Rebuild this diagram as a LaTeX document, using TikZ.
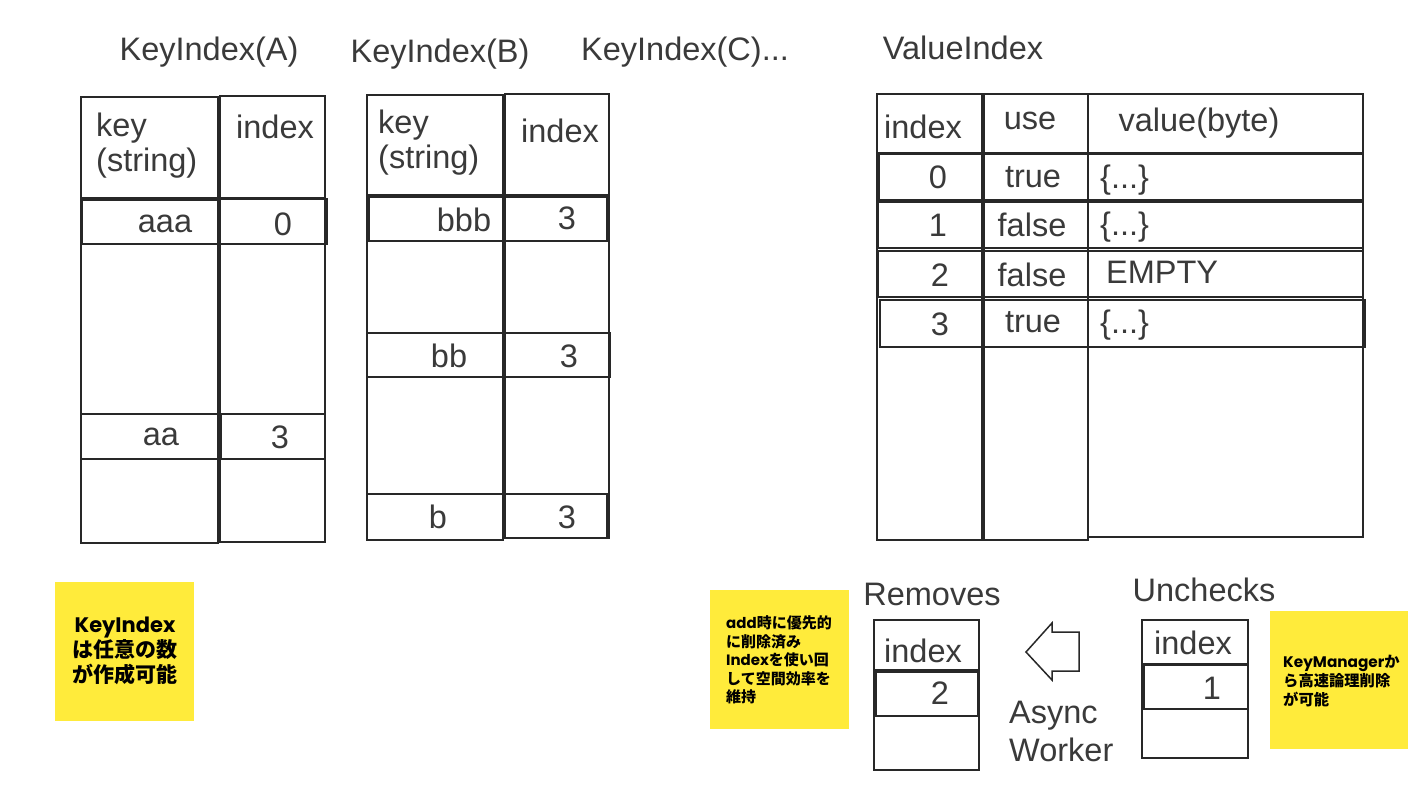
\documentclass[tikz,border=0pt]{standalone}
\usepackage{fontspec}
\setmainfont{Liberation Sans}
\newfontfamily\cjkf{Noto Sans CJK JP}
\newfontfamily\popf{Poppins}
\definecolor{ink}{RGB}{58,58,58}
\definecolor{edgec}{RGB}{40,40,40}
\definecolor{sticky}{RGB}{255,235,59}
\begin{document}
\begin{tikzpicture}[x=1pt,y=-1pt,
  tbl/.style={draw=edgec, line width=1.7pt},
  lbl/.style={text=ink, font=\fontsize{32.5}{35}\selectfont, inner sep=0pt},
  note/.style={fill=sticky, draw=none},
  notetxt/.style={text=black, inner sep=0pt}]
\useasboundingbox[fill=white] (0,0) rectangle (1422,800);

% titles
\node[lbl] (tA) at (209,52) {KeyIndex(A)};
\node[lbl] (tB) at (440,54) {KeyIndex(B)};
\node[lbl] (tC) at (685,52) {KeyIndex(C)...};
\node[lbl] (tV) at (963,48) {ValueIndex};

% KeyIndex(A)
\draw[tbl] (81,97) rectangle (218,543);
\draw[tbl] (220,96) rectangle (325,542);
\draw[tbl] (81,198) -- (218,198);
\draw[tbl] (220,198) -- (325,198);
\draw[tbl] (82,200) rectangle (218,244);
\draw[tbl] (220,199) rectangle (327,244);
\draw[tbl] (81,414) rectangle (218,459);
\draw[tbl] (221,414) rectangle (325,459);
\node[lbl, align=left, anchor=west] (kA) at (96,146) {key\\(string)};
\node[lbl] (iA) at (275,127) {index};
\node[lbl] (aaa) at (165,224) {aaa};
\node[lbl] (a0) at (283,224) {0};
\node[lbl] (aa) at (161,437) {aa};
\node[lbl] (a3) at (280,437) {3};

% KeyIndex(B)
\draw[tbl] (367,95) rectangle (503,540);
\draw[tbl] (505,94) rectangle (609,538);
\draw[tbl] (367,195) -- (503,195);
\draw[tbl] (505,195) -- (609,195);
\draw[tbl] (369,197) rectangle (503,241);
\draw[tbl] (505,197) rectangle (607,241);
\draw[tbl] (367,333) rectangle (503,377);
\draw[tbl] (505,333) rectangle (610,377);
\draw[tbl] (367,494) rectangle (503,540);
\draw[tbl] (505,494) rectangle (607,538);
\node[lbl, align=left, anchor=west] (kB) at (378,143) {key\\(string)};
\node[lbl] (iB) at (560,131) {index};
\node[lbl] (bbb) at (464,220) {bbb};
\node[lbl] (b3a) at (567,218) {3};
\node[lbl] (bb) at (449,356) {bb};
\node[lbl] (b3b) at (569,356) {3};
\node[lbl] (b) at (438,517) {b};
\node[lbl] (b3c) at (567,517) {3};

% ValueIndex
\draw[tbl] (877,94) rectangle (982,540);
\draw[tbl] (984,94) rectangle (1088,540);
\draw[tbl] (1088,94) rectangle (1363,537);
\draw[tbl] (877,153) -- (1363,153);
\draw[tbl] (879,154) rectangle (1363,200);
\draw[tbl] (878,202) rectangle (1363,248);
\draw[tbl] (878,251) rectangle (1363,297);
\draw[tbl] (880,300) rectangle (1365,347);
\node[lbl] (vhi) at (923,127) {index};
\node[lbl] (vhu) at (1030,121) {use};
\node[lbl] (vhv) at (1199,123) {value(byte)};
\node[lbl] (v0i) at (938,177) {0};
\node[lbl] (v0u) at (1033,177) {true};
\node[lbl, anchor=west] (v0v) at (1100,180) {\{...\}};
\node[lbl] (v1i) at (938,225) {1};
\node[lbl] (v1u) at (1032,225) {false};
\node[lbl, anchor=west] (v1v) at (1100,227) {\{...\}};
\node[lbl] (v2i) at (940,275) {2};
\node[lbl] (v2u) at (1032,275) {false};
\node[lbl, anchor=west] (v2v) at (1106,272) {EMPTY};
\node[lbl] (v3i) at (940,324) {3};
\node[lbl] (v3u) at (1033,322) {true};
\node[lbl, anchor=west] (v3v) at (1100,325) {\{...\}};

% Removes
\node[lbl] (rmT) at (932,594) {Removes};
\draw[tbl] (874,620) rectangle (979,770);
\draw[tbl] (874,670) -- (979,670);
\draw[tbl] (876,672) rectangle (978,716);
\node[lbl] (rmi) at (923,651) {index};
\node[lbl] (rm2) at (940,693) {2};

% block arrow
\draw[tbl, line width=1.5pt, line join=miter] (1079,632) -- (1052,632) -- (1052,623) -- (1026,652)
  -- (1052,680) -- (1052,671) -- (1079,671) -- cycle;
\node[lbl, align=left, anchor=west, font=\fontsize{32.5}{38}\selectfont] (aw) at (1009,731) {Async\\Worker};

% Unchecks
\node[lbl] (ucT) at (1204,590) {Unchecks};
\draw[tbl] (1142,620) rectangle (1248,758);
\draw[tbl] (1142,664) -- (1248,664);
\draw[tbl] (1144,665) rectangle (1248,709);
\node[lbl] (uci) at (1193,643) {index};
\node[lbl] (uc1) at (1212,688) {1};

% sticky notes
\fill[note] (55,582) rectangle (194,721);
\node[notetxt, align=center, font={\cjkf\bfseries\fontsize{21}{25}\selectfont}] (n1) at (125,651)
  {{\popf KeyIndex}\\は任意の数\\が作成可能};
\fill[note] (710,590) rectangle (849,729);
\node[notetxt, align=left, anchor=west, font={\cjkf\bfseries\fontsize{15}{18.4}\selectfont}] (n2) at (726,660)
  {{\popf add}時に優先的\\に削除済み\\{\popf Index}を使い回\\して空間効率を\\維持};
\fill[note] (1270,611) rectangle (1408,749);
\node[notetxt, align=left, anchor=west, font={\cjkf\bfseries\fontsize{15.3}{18.8}\selectfont}] (n3) at (1283,681)
  {{\popf KeyManager}か\\ら高速論理削除\\が可能};
\end{tikzpicture}
\end{document}
